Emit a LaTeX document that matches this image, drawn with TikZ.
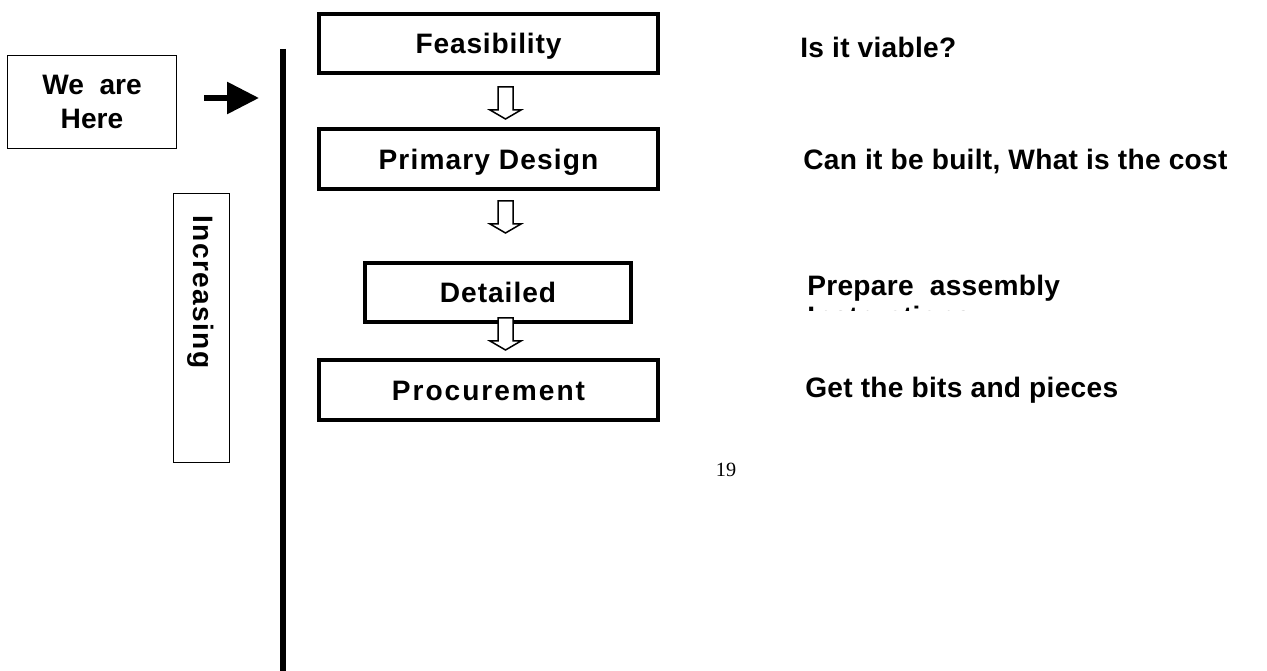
\documentclass[tikz,border=0pt]{standalone}
\usepackage{fontspec}
\setmainfont{Liberation Serif}
\setsansfont{Liberation Sans}
\usetikzlibrary{arrows.meta}

\newcommand\lbl{\sffamily\bfseries\fontsize{16}{19}\selectfont}

\tikzset{
  stage/.style={draw,line width=2.3pt,inner sep=0pt,minimum width=6.78cm,minimum height=1.19cm,
    text height=11.5pt,text depth=0pt,font=\lbl\addfontfeatures{LetterSpace=#1}},
  stage/.default=3,
  thinbox/.style={draw,line width=0.8pt,inner sep=0pt},
  note/.style={anchor=base west,inner sep=0pt,font=\lbl\addfontfeatures{LetterSpace=1}},
  down/.pic={
    \draw[fill=white,line width=0.85pt] (-7.5,0) -- (7.5,0) -- (7.5,23) -- (15.5,23)
      -- (0,32) -- (-15.5,23) -- (-7.5,23) -- cycle;
  }
}

\begin{document}
\begin{tikzpicture}[x=0.02cm,y=-0.02cm]
  \useasboundingbox (0,0) rectangle (1267,671);

  % left side
  \node[thinbox,minimum width=3.38cm,minimum height=1.86cm,align=center,font=\lbl] (here) at (92,102) {We\ \ are\\Here};
  \coordinate (tail) at (204,98);
  \coordinate (tip) at (259,98);
  \draw[line width=3.4pt,-{Triangle[length=0.64cm,width=0.62cm]}] (tail) -- (tip);
  \coordinate (top) at (283,49);
  \coordinate (bot) at (283,671);
  \draw[line width=3.6pt] (top) -- (bot);
  \node[thinbox,minimum width=1.12cm,minimum height=5.38cm] (incbox) at (201.5,328) {};
  \node[note,rotate=-90,font=\lbl\addfontfeatures{LetterSpace=5}] (inc) at (193,215) {Increasing};

  % stages
  \node[stage] (feas) at (488.5,43.5) {Feasibility};
  \node[stage=4] (prim) at (488.5,159) {Primary Design};
  \node[stage=3.5,minimum width=5.32cm] (det) at (498,292.5) {Detailed};
  \node[stage=7] (proc) at (488.5,390) {Procurement};
  \pic at (505.5,87) {down};
  \pic at (505.5,201) {down};
  \pic at (505.5,318) {down};

  % questions on the right
  \node[note] (q1) at (800,58) {Is it viable?};
  \node[note] (q2) at (803,170) {Can it be built, What is the cost};
  \node[note] (q3) at (807,296) {Prepare\ \ assembly};
  \begin{scope}
    \clip (790,306) rectangle (1200,311);
    \node[note] (q3b) at (807,327) {Instructions};
  \end{scope}
  \node[note] (q4) at (805,398) {Get the bits and pieces};

  \node[font=\fontsize{11.5}{14}\selectfont] (pg) at (726,470) {19};
\end{tikzpicture}
\end{document}
